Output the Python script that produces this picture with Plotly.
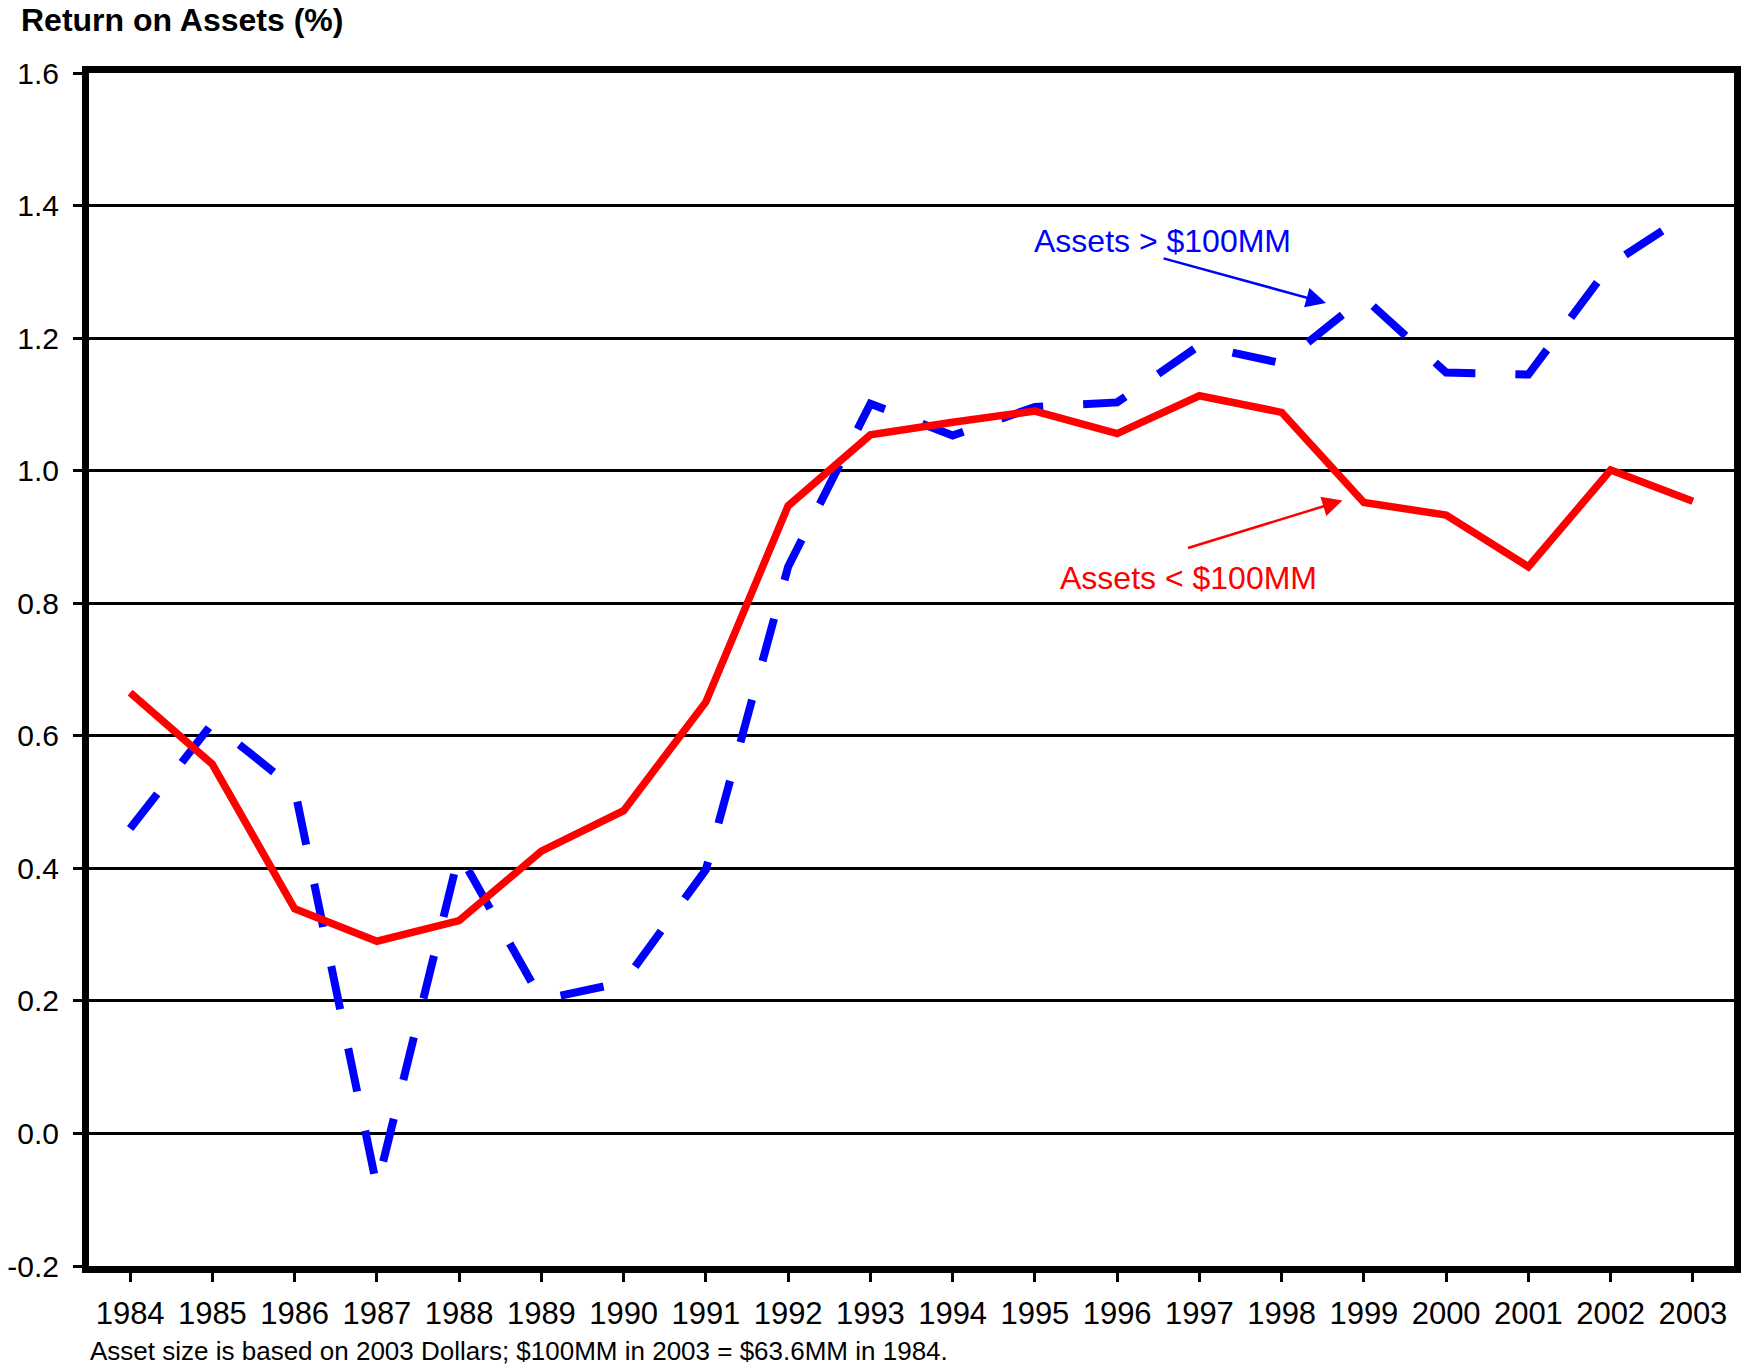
import plotly.graph_objects as go

# ==========================
# DATA
# ==========================
years = ['1984', '1985', '1986', '1987', '1988', '1989', '1990', '1991', '1992', '1993',
         '1994', '1995', '1996', '1997', '1998', '1999', '2000', '2001', '2002', '2003']

roa_small = [0.665, 0.557, 0.339, 0.290, 0.321, 0.426, 0.487, 0.651, 0.947, 1.054,
             1.073, 1.090, 1.056, 1.113, 1.088, 0.952, 0.933, 0.855, 1.001, 0.954]

roa_large = [0.460, 0.619, 0.520, -0.081, 0.422, 0.202, 0.228, 0.398, 0.855, 1.101,
             1.053, 1.096, 1.103, 1.189, 1.162, 1.261, 1.148, 1.145, 1.311, 1.392]

y_ticks = [-0.2, 0.0, 0.2, 0.4, 0.6, 0.8, 1.0, 1.2, 1.4, 1.6]
y_tick_labels = ['-0.2', '0.0', '0.2', '0.4', '0.6', '0.8', '1.0', '1.2', '1.4', '1.6']

FONT = 'Liberation Sans, Arial, sans-serif'

# ==========================
# FIGURE
# ==========================
fig = go.Figure()

fig.add_trace(go.Scatter(
    x=years, y=roa_large,
    mode='lines', name='Assets > $100MM',
    line=dict(width=8, color='#0000ff', dash='44px,40px')
))

fig.add_trace(go.Scatter(
    x=years, y=roa_small,
    mode='lines', name='Assets < $100MM',
    line=dict(width=7.5, color='#ff0000')
))

fig.update_xaxes(
    type='category', range=[-0.5, 19.5],
    showline=True, linewidth=7, linecolor='black', mirror=True,
    ticks='outside', ticklen=9, tickwidth=3, tickcolor='black',
    ticklabelstandoff=5,
    showgrid=False,
    tickfont=dict(family=FONT, size=31, color='black')
)

fig.update_yaxes(
    range=[-0.2, 1.6],
    tickvals=y_ticks, ticktext=y_tick_labels,
    showline=True, linewidth=7, linecolor='black', mirror=True,
    ticks='outside', ticklen=9, tickwidth=3, tickcolor='black',
    ticklabelstandoff=8,
    showgrid=True, gridcolor='black', gridwidth=3,
    zeroline=False,
    tickfont=dict(family=FONT, size=30, color='black')
)

# title + footnote
fig.add_annotation(
    text='<b>Return on Assets (%)</b>', xref='paper', yref='paper',
    x=-0.0427, y=1.0444, xanchor='left', yanchor='middle', showarrow=False,
    font=dict(family=FONT, size=32, color='black')
)
fig.add_annotation(
    text='Asset size is based on 2003 Dollars; $100MM in 2003 = $63.6MM in 1984.',
    xref='paper', yref='paper',
    x=0.0, y=-0.0713, xanchor='left', yanchor='middle', xshift=-1, showarrow=False,
    font=dict(family=FONT, size=26, color='black')
)

# series labels with arrows
fig.add_annotation(
    text='Assets > $100MM', x=12.55, y=1.347, showarrow=False,
    font=dict(family=FONT, size=32, color='#0000ff')
)
fig.add_annotation(
    text='', x=14.54, y=1.253, ax=-164, ay=-45,
    showarrow=True, arrowhead=2, arrowsize=1.6, arrowwidth=2.5, arrowcolor='#0000ff'
)
fig.add_annotation(
    text='Assets < $100MM', x=12.87, y=0.838, showarrow=False,
    font=dict(family=FONT, size=32, color='#ff0000')
)
fig.add_annotation(
    text='', x=14.74, y=0.955, ax=-156, ay=48,
    showarrow=True, arrowhead=2, arrowsize=1.6, arrowwidth=2.5, arrowcolor='#ff0000'
)

fig.update_layout(
    width=1745, height=1365,
    showlegend=False,
    plot_bgcolor='white',
    paper_bgcolor='white',
    margin=dict(l=89, r=4, t=73, b=99)
)

# page body has a default 8px margin; drop it so the figure sits at the window corner
fig.write_html("out.html", config={'displayModeBar': False},
               post_script="document.body.style.margin='0px';")
